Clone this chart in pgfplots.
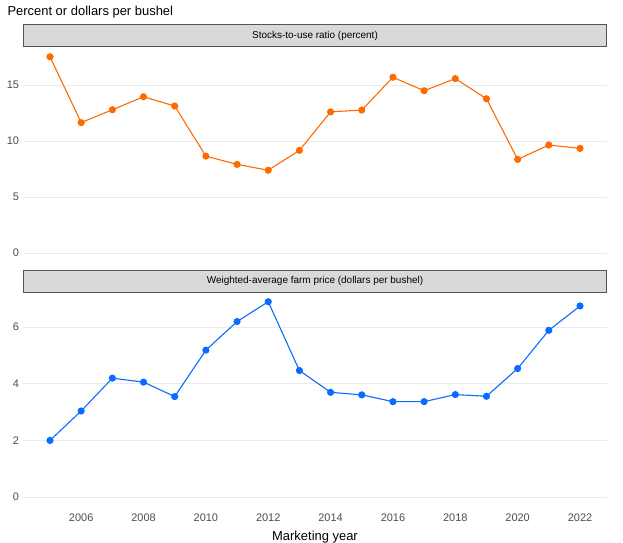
\documentclass[border=0pt]{standalone}
\usepackage{fontspec}
\setmainfont{Liberation Sans}
\usepackage{pgfplots}
\pgfplotsset{compat=1.18}

\definecolor{stockorange}{HTML}{FF6A00}
\definecolor{priceblue}{HTML}{0A6CFF}
\definecolor{gridgray}{HTML}{EBEBEB}
\definecolor{ticktext}{HTML}{4D4D4D}
\definecolor{stripfill}{HTML}{D9D9D9}
\definecolor{stripline}{HTML}{555555}

\pgfplotsset{
  facet/.style={
    scale only axis,
    width=583bp,
    xmin=2004.15, xmax=2022.85,
    xtick={2006,2008,...,2022},
    axis line style={draw=none},
    major tick length=0pt,
    ymajorgrids,
    xmajorgrids=false,
    grid style={gridgray, line width=1bp},
    ticklabel style={font=\fontsize{11}{13}\selectfont, text=ticktext},
    xticklabel style={yshift=-4bp},
    yticklabel style={xshift=-1bp},
    /pgf/number format/1000 sep={},
    /pgf/number format/assume math mode=true,
    clip=false,
  },
}
\tikzset{
  strip/.style={
    draw=stripline, fill=stripfill, line width=0.8bp,
    minimum width=583bp, minimum height=22bp, inner sep=0pt,
    anchor=south, font=\fontsize{10}{12}\selectfont,
  },
}

\begin{document}
\begin{tikzpicture}
\useasboundingbox (0bp,0bp) rectangle (623bp,-543bp);
\node[anchor=west, font=\fontsize{13}{15}\selectfont] at (4bp,-12bp) {Percent or dollars per bushel};

% top facet: stocks-to-use ratio
\begin{axis}[facet,
  at={(23.5bp,-262.8bp)}, anchor=south west,
  height=215.6bp,
  ymin=-0.875, ymax=18.375,
  ytick={0,5,10,15},
  xticklabels={},
]
\addplot[stockorange, line width=1.1bp, mark=*, mark size=3bp] coordinates {
(2005,17.52) (2006,11.64) (2007,12.79) (2008,13.95) (2009,13.12)
(2010,8.65) (2011,7.91) (2012,7.39) (2013,9.16) (2014,12.60)
(2015,12.76) (2016,15.69) (2017,14.49) (2018,15.57) (2019,13.77)
(2020,8.36) (2021,9.64) (2022,9.34)
};
\node[strip] at (rel axis cs:0.5,1) {Stocks-to-use ratio (percent)};
\end{axis}

% bottom facet: farm price
\begin{axis}[facet,
  at={(23.5bp,-506.8bp)}, anchor=south west,
  height=214.4bp,
  ymin=-0.345, ymax=7.23,
  ytick={0,2,4,6},
  xlabel={Marketing year},
  xlabel style={font=\fontsize{13}{15}\selectfont, yshift=-2bp},
]
\addplot[priceblue, line width=1.1bp, mark=*, mark size=3bp] coordinates {
(2005,2.00) (2006,3.04) (2007,4.20) (2008,4.06) (2009,3.55)
(2010,5.19) (2011,6.20) (2012,6.90) (2013,4.47) (2014,3.70)
(2015,3.61) (2016,3.37) (2017,3.37) (2018,3.62) (2019,3.56)
(2020,4.54) (2021,5.89) (2022,6.75)
};
\node[strip] at (rel axis cs:0.5,1) {Weighted-average farm price (dollars per bushel)};
\end{axis}
\end{tikzpicture}
\end{document}
